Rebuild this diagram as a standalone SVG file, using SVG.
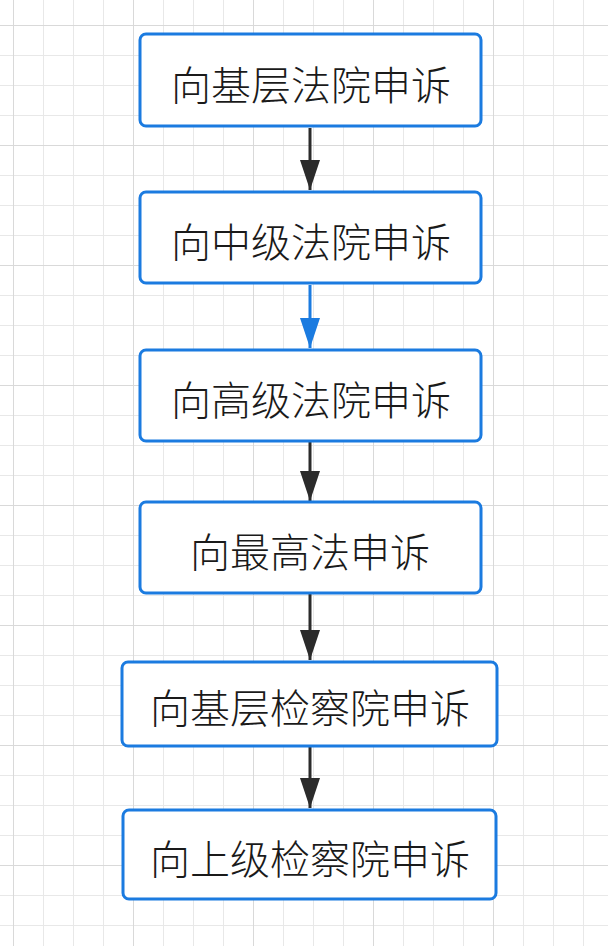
<svg xmlns="http://www.w3.org/2000/svg" width="608" height="946" viewBox="0 0 608 946">
<style>
.box{fill:#ffffff;stroke:#1b7be0;stroke-width:3;}
.lbl{font-family:"Noto Sans CJK SC","Noto Sans CJK JP",sans-serif;font-size:40px;font-weight:300;fill:#1a1a1a;text-anchor:middle;dominant-baseline:central;}
.edge{stroke:#2b2b2b;stroke-width:3;fill:none;marker-end:url(#ah);}
.edge.blue{stroke:#1b7be0;marker-end:url(#ahb);}
</style>
<defs>
<pattern id="minor" patternUnits="userSpaceOnUse" x="13" y="25" width="30" height="30">
<path d="M0.5 0V30M0 0.5H30" stroke="#e8e8e8" stroke-width="1" fill="none"/>
</pattern>
<pattern id="major" patternUnits="userSpaceOnUse" x="13" y="25" width="120" height="120">
<path d="M0.5 0V120M0 0.5H120" stroke="#d9d9d9" stroke-width="1" fill="none"/>
</pattern>
<marker id="ah" viewBox="0 0 30 20" refX="30" refY="10" markerWidth="30" markerHeight="20" markerUnits="userSpaceOnUse" orient="auto">
<path d="M0 0L30 10L0 20Z" fill="#2b2b2b"/>
</marker>
<marker id="ahb" viewBox="0 0 30 20" refX="30" refY="10" markerWidth="30" markerHeight="20" markerUnits="userSpaceOnUse" orient="auto">
<path d="M0 0L30 10L0 20Z" fill="#1b7be0"/>
</marker>
</defs>
<rect x="0" y="0" width="608" height="946" fill="#ffffff"/>
<rect x="0" y="0" width="608" height="946" fill="url(#minor)"/>
<rect x="0" y="0" width="608" height="946" fill="url(#major)"/>
<g id="connectors">
<path class="edge" d="M310 128V190"/>
<path class="edge blue" d="M310 285V348"/>
<path class="edge" d="M310 442V501"/>
<path class="edge" d="M310 594V660"/>
<path class="edge" d="M310 747V808"/>
</g>
<g id="n1"><rect class="box" x="140" y="34" width="341" height="92" rx="6"/><text class="lbl" x="311" y="83">向基层法院申诉</text></g>
<g id="n2"><rect class="box" x="140" y="192" width="341" height="91" rx="6"/><text class="lbl" x="311" y="240">向中级法院申诉</text></g>
<g id="n3"><rect class="box" x="140" y="350" width="341" height="91" rx="6"/><text class="lbl" x="311" y="398">向高级法院申诉</text></g>
<g id="n4"><rect class="box" x="140" y="502" width="341" height="91" rx="6"/><text class="lbl" x="310" y="550">向最高法申诉</text></g>
<g id="n5"><rect class="box" x="122" y="662" width="375" height="84" rx="6"/><text class="lbl" x="310" y="706">向基层检察院申诉</text></g>
<g id="n6"><rect class="box" x="123" y="810" width="373" height="89" rx="6"/><text class="lbl" x="310" y="857">向上级检察院申诉</text></g>
</svg>
